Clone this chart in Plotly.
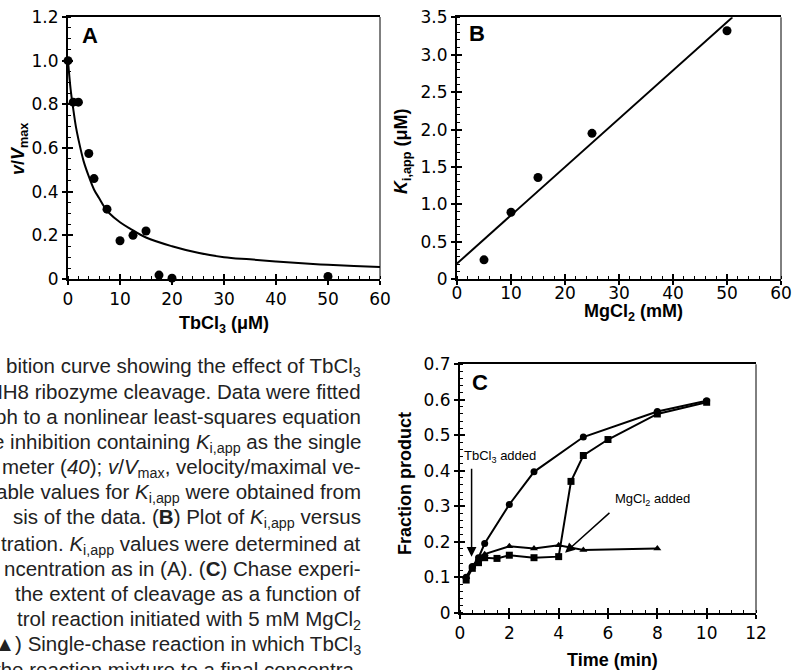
import plotly.graph_objects as go

W, H = 794, 670

# ---------------- data ----------------
# Panel A
tb_conc = [0, 1, 2, 4, 5, 7.5, 10, 12.5, 15, 17.5, 20, 50]
v_vmax = [1.0, 0.81, 0.81, 0.575, 0.46, 0.32, 0.175, 0.20, 0.22, 0.018, 0.004, 0.012]
fitA_x = [0, 0.5, 1, 1.5, 2, 3, 4, 5, 6, 7, 8, 10, 12, 15, 20, 25, 30, 35, 40, 45, 50, 55, 60]
fitA_y = [1.0, 0.87, 0.78, 0.70, 0.64, 0.54, 0.47, 0.41, 0.37, 0.33, 0.30, 0.26, 0.23, 0.19,
          0.15, 0.12, 0.10, 0.09, 0.08, 0.072, 0.065, 0.06, 0.055]
# Panel B
mg_conc = [5, 10, 15, 25, 50]
ki_app = [0.26, 0.895, 1.36, 1.95, 3.32]
fitB_x = [0, 51]
fitB_y = [0.21, 3.5]
# Panel C
t_ctrl = [0.25, 0.5, 0.75, 1, 2, 3, 5, 8, 10]
fp_ctrl = [0.10, 0.13, 0.155, 0.195, 0.305, 0.397, 0.495, 0.567, 0.597]
t_dbl = [0.25, 0.5, 0.75, 1, 1.5, 2, 3, 4, 4.5, 5, 6, 8, 10]
fp_dbl = [0.092, 0.125, 0.141, 0.155, 0.153, 0.162, 0.155, 0.158, 0.37, 0.443, 0.488, 0.56, 0.593]
t_sgl = [0.25, 0.5, 0.75, 1, 2, 3, 4, 5, 8]
fp_sgl = [0.10, 0.13, 0.15, 0.165, 0.187, 0.181, 0.19, 0.177, 0.181]

# tick labels
yA_vals = [0, 0.2, 0.4, 0.6, 0.8, 1.0, 1.2]
yA_text = ["0", "0.2", "0.4", "0.6", "0.8", "1.0", "1.2"]
yB_vals = [0, 0.5, 1.0, 1.5, 2.0, 2.5, 3.0, 3.5]
yB_text = ["0", "0.5", "1.0", "1.5", "2.0", "2.5", "3.0", "3.5"]
yC_vals = [0, 0.1, 0.2, 0.3, 0.4, 0.5, 0.6, 0.7]
yC_text = ["0", "0.1", "0.2", "0.3", "0.4", "0.5", "0.6", "0.7"]

caption_lines = [
    "bition curve showing the effect of TbCl<sub>3</sub>",
    "HH8 ribozyme cleavage. Data were fitted",
    "ph to a nonlinear least-squares equation",
    "e inhibition containing <i>K</i><sub>i,app</sub> as the single",
    "meter (<i>40</i>); <i>v</i>/<i>V</i><sub>max</sub>, velocity/maximal ve-",
    "able values for <i>K</i><sub>i,app</sub> were obtained from",
    "sis of the data. (<b>B</b>) Plot of <i>K</i><sub>i,app</sub> versus",
    "tration. <i>K</i><sub>i,app</sub> values were determined at",
    "ncentration as in (A). (<b>C</b>) Chase experi-",
    "the extent of cleavage as a function of",
    "trol reaction initiated with 5 mM MgCl<sub>2</sub>",
    "(\u25B2) Single-chase reaction in which TbCl<sub>3</sub>",
    "the reaction mixture to a final concentra-",
]
caption_y = [367, 393, 418, 443, 468, 493, 518, 545, 570, 595, 620, 645, 671]

FONT = "Liberation Sans, Arial, sans-serif"
TICKFONT = "DejaVu Sans, sans-serif"

def px(x):
    return x / W

def py(y):
    return 1 - y / H

fig = go.Figure()

# Panel A
fig.add_trace(go.Scatter(x=fitA_x, y=fitA_y, mode="lines", line=dict(color="black", width=2, shape="spline"),
                         xaxis="x", yaxis="y", showlegend=False, cliponaxis=False))
fig.add_trace(go.Scatter(x=tb_conc, y=v_vmax, mode="markers", marker=dict(color="black", size=9),
                         xaxis="x", yaxis="y", showlegend=False, cliponaxis=False))
# Panel B
fig.add_trace(go.Scatter(x=fitB_x, y=fitB_y, mode="lines", line=dict(color="black", width=2),
                         xaxis="x2", yaxis="y2", showlegend=False, cliponaxis=False))
fig.add_trace(go.Scatter(x=mg_conc, y=ki_app, mode="markers", marker=dict(color="black", size=9),
                         xaxis="x2", yaxis="y2", showlegend=False, cliponaxis=False))
# Panel C
fig.add_trace(go.Scatter(x=t_sgl, y=fp_sgl, mode="lines+markers", line=dict(color="black", width=2),
                         marker=dict(symbol="triangle-up", size=7, color="black"),
                         xaxis="x3", yaxis="y3", showlegend=False, cliponaxis=False))
fig.add_trace(go.Scatter(x=t_dbl, y=fp_dbl, mode="lines+markers", line=dict(color="black", width=2),
                         marker=dict(symbol="square", size=7, color="black"),
                         xaxis="x3", yaxis="y3", showlegend=False, cliponaxis=False))
fig.add_trace(go.Scatter(x=t_ctrl, y=fp_ctrl, mode="lines+markers", line=dict(color="black", width=2),
                         marker=dict(symbol="circle", size=7, color="black"),
                         xaxis="x3", yaxis="y3", showlegend=False, cliponaxis=False))

tickfont = dict(family=TICKFONT, size=17, color="black")

def xmain(domain, rng, dtick, minor_dtick, anchor):
    return dict(domain=domain, range=rng, dtick=dtick, tick0=0, showgrid=False, zeroline=False,
                showline=True, linecolor="black", linewidth=2, mirror=True, automargin=False,
                ticks="outside", ticklen=4, tickwidth=1.5, tickcolor="black", showticklabels=False,
                minor=dict(ticks="inside", ticklen=3, tickwidth=1, tickcolor="black", dtick=minor_dtick, showgrid=False),
                anchor=anchor, fixedrange=True)

def xinside(base, rng, dtick, anchor):
    return dict(overlaying=base, range=rng, dtick=dtick, tick0=0, showgrid=False, zeroline=False,
                showline=False, ticks="inside", ticklen=5, tickwidth=1.5, tickcolor="black",
                showticklabels=False, anchor=anchor, automargin=False, fixedrange=True)

def xlabels(base, rng, dtick, pos_px):
    return dict(overlaying=base, range=rng, dtick=dtick, tick0=0, showgrid=False, zeroline=False,
                showline=False, ticks="", showticklabels=True, tickfont=tickfont,
                anchor="free", position=py(pos_px), side="bottom", automargin=False, fixedrange=True)

def ymain(domain, rng, vals, texts, minor_dtick, anchor):
    return dict(domain=domain, range=rng, tickmode="array", tickvals=vals, ticktext=texts,
                showgrid=False, zeroline=False, showline=True, linecolor="black", linewidth=2, mirror=False,
                ticks="outside", ticklen=4, tickwidth=1.5, tickcolor="black", tickfont=tickfont,
                automargin=False,
                minor=dict(ticks="inside", ticklen=3, tickwidth=1, tickcolor="black", dtick=minor_dtick, tick0=0, showgrid=False),
                anchor=anchor, fixedrange=True)

def yinside(base, rng, vals, anchor):
    return dict(overlaying=base, range=rng, tickmode="array", tickvals=vals, showgrid=False, zeroline=False,
                showline=False, ticks="inside", ticklen=5, tickwidth=1.5, tickcolor="black",
                showticklabels=False, anchor=anchor, automargin=False, fixedrange=True)

fig.update_layout(
    width=W, height=H, margin=dict(l=0, r=0, t=0, b=0, autoexpand=False),
    paper_bgcolor="white", plot_bgcolor="white",
    font=dict(family=FONT, color="black"),
    xaxis=xmain([px(68), px(380)], [0, 60], 10, 2, "y"),
    yaxis=ymain([py(279), py(17)], [0, 1.2], yA_vals, yA_text, 0.05, "x"),
    xaxis2=xmain([px(457), px(781)], [0, 60], 10, 2, "y2"),
    yaxis2=ymain([py(279.3), py(17.3)], [0, 3.5], yB_vals, yB_text, 0.1, "x2"),
    xaxis3=xmain([px(460), px(756)], [0, 12], 2, 0.5, "y3"),
    yaxis3=ymain([py(612.7), py(364.3)], [0, 0.7], yC_vals, yC_text, 0.02, "x3"),
    # inside halves of the crossing major ticks
    xaxis4=xinside("x", [0, 60], 10, "y"),
    yaxis4=yinside("y", [0, 1.2], yA_vals, "x"),
    xaxis5=xinside("x2", [0, 60], 10, "y2"),
    yaxis5=yinside("y2", [0, 3.5], yB_vals, "x2"),
    xaxis6=xinside("x3", [0, 12], 2, "y3"),
    yaxis6=yinside("y3", [0, 0.7], yC_vals, "x3"),
    # x tick labels, placed at the reference's distance below each axis
    xaxis7=xlabels("x", [0, 60], 10, 286.5),
    xaxis8=xlabels("x2", [0, 60], 10, 280.5),
    xaxis9=xlabels("x3", [0, 12], 2, 621),
)

# invisible carriers so the companion axes are drawn
for xa, ya in [("x4", "y4"), ("x5", "y5"), ("x6", "y6"), ("x7", "y"), ("x8", "y2"), ("x9", "y3")]:
    fig.add_trace(go.Scatter(x=[0], y=[0], xaxis=xa, yaxis=ya, mode="markers",
                             marker=dict(opacity=0, size=1), hoverinfo="skip", showlegend=False))

# right borders (thin)
for xa, ya in [("x", "y"), ("x2", "y2"), ("x3", "y3")]:
    fig.add_shape(type="line", xref=f"{xa} domain", yref=f"{ya} domain", x0=1, x1=1, y0=0, y1=1,
                  line=dict(color="black", width=1))

ann = []
title_font = dict(family=FONT, size=18, color="black")
# panel letters
for txt, x, y in [("A", 90, 35), ("B", 477, 34), ("C", 480, 382)]:
    ann.append(dict(text=f"<b>{txt}</b>", x=px(x), y=py(y), xref="paper", yref="paper",
                    xanchor="center", yanchor="middle", showarrow=False,
                    font=dict(family=FONT, size=22, color="black")))
# axis titles
ann.append(dict(text="<b>TbCl<sub>3</sub> (\u03bcM)</b>", x=px(224), y=py(311), xref="paper", yref="paper",
                xanchor="center", yanchor="top", showarrow=False, font=title_font))
ann.append(dict(text="<b>MgCl<sub>2</sub> (mM)</b>", x=px(633), y=py(299), xref="paper", yref="paper",
                xanchor="center", yanchor="top", showarrow=False, font=title_font))
ann.append(dict(text="<b>Time (min)</b>", x=px(612), y=py(648), xref="paper", yref="paper",
                xanchor="center", yanchor="top", showarrow=False, font=title_font))
ann.append(dict(text="<b><i>v</i>/<i>V</i><sub>max</sub></b>", x=px(19), y=py(149), xref="paper", yref="paper",
                xanchor="center", yanchor="middle", showarrow=False, textangle=-90, font=title_font))
ann.append(dict(text="<b><i>K</i><sub>i,app</sub> (\u03bcM)</b>", x=px(402), y=py(152), xref="paper", yref="paper",
                xanchor="center", yanchor="middle", showarrow=False, textangle=-90, font=title_font))
ann.append(dict(text="<b>Fraction product</b>", x=px(405), y=py(484), xref="paper", yref="paper",
                xanchor="center", yanchor="middle", showarrow=False, textangle=-90, font=title_font))
# panel C labels and arrows
small = dict(family=FONT, size=13, color="black")
ann.append(dict(text="TbCl<sub>3</sub> added", x=0.1, y=0.44, xref="x3", yref="y3",
                xanchor="left", yanchor="middle", showarrow=False, font=small))
ann.append(dict(text="MgCl<sub>2</sub> added", x=6.2, y=0.318, xref="x3", yref="y3",
                xanchor="left", yanchor="middle", showarrow=False, font=small))
ann.append(dict(text="", x=0.47, y=0.158, ax=0.47, ay=0.41, xref="x3", yref="y3", axref="x3", ayref="y3",
                showarrow=True, arrowhead=2, arrowsize=1.3, arrowwidth=1.5, arrowcolor="black"))
ann.append(dict(text="", x=4.26, y=0.169, ax=6.12, ay=0.285, xref="x3", yref="y3", axref="x3", ayref="y3",
                showarrow=True, arrowhead=2, arrowsize=1.3, arrowwidth=1.5, arrowcolor="black"))
# caption text (left column, cropped)
for line, y in zip(caption_lines, caption_y):
    ann.append(dict(text=line, x=px(363), y=py(y - 15), xref="paper", yref="paper",
                    xanchor="right", yanchor="top", showarrow=False,
                    font=dict(family=FONT, size=20.5, color="#222222")))

fig.update_layout(annotations=ann)
fig.write_html("out.html", config={"displayModeBar": False},
               post_script="document.body.style.margin='0';document.body.style.padding='0';"
                           "document.body.style.overflow='hidden';")
